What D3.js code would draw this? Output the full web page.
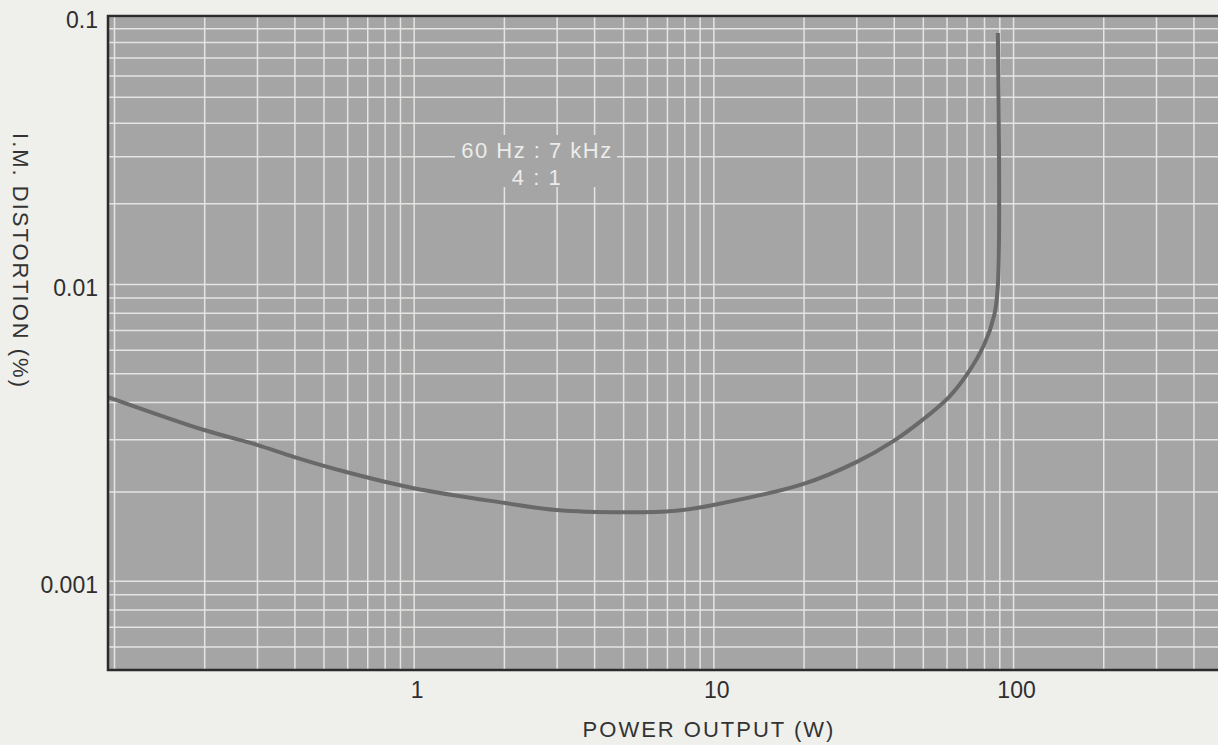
<!DOCTYPE html>
<html>
<head>
<meta charset="utf-8">
<script src="https://cdn.jsdelivr.net/npm/d3@7"></script>
<style>
    body { margin: 0; background: #efefec; }
    svg { display: block; }
</style>
</head>
<body>
<div id="chartContainer"></div>
<script>
// power output (W) and I.M. distortion (%)
const power = [0.0955, 0.2, 0.3, 0.4, 0.6, 1, 2, 3, 5, 7.5, 10, 20, 30, 40, 50, 61, 70, 80, 86.6, 89, 89];
const imd = [0.00416, 0.00322, 0.00287, 0.00261, 0.00232, 0.00205, 0.00183, 0.00173, 0.00170, 0.00172,
    0.00180, 0.00212, 0.00251, 0.00296, 0.00349, 0.00415, 0.00494, 0.00623, 0.00787, 0.0099, 0.0864];

const xTickLabels = [1, 10, 100];
const yTickLabels = [0.001, 0.01, 0.1];
const annotation = ['60 Hz : 7 kHz', '4 : 1'];

function init() {
    const width = 1218;
    const height = 745;
    const plot = { left: 108, top: 16, right: 1218, bottom: 670 };

    const data = power.map((p, i) => ({ power: p, value: imd[i] }));

    const svg = d3.select('#chartContainer')
        .append('svg')
        .attr('width', width)
        .attr('height', height)
        .style('font-family', '"Liberation Sans", Arial, sans-serif');

    const scX = d3.scaleLog()
        .domain([0.0955, 483])
        .range([plot.left, plot.right]);

    // the printed scale is a little uneven between the two decades
    const scY = d3.scaleLog()
        .domain([0.1, 0.01, 0.0005])
        .range([plot.top, 284, plot.bottom]);

    // plot background
    svg.append('rect')
        .attr('x', plot.left)
        .attr('y', plot.top)
        .attr('width', plot.right - plot.left + 20)
        .attr('height', plot.bottom - plot.top)
        .attr('fill', '#a5a5a5');

    //GRIDS
    const xgridlines = d3.axisTop(scX)
        .tickFormat('')
        .tickSize(-(plot.bottom - plot.top))
        .tickSizeOuter(0);

    const ygridlines = d3.axisLeft(scY)
        .tickValues(scY.ticks())
        .tickFormat('')
        .tickSize(-(plot.right - plot.left))
        .tickSizeOuter(0);

    svg.append('g')
        .attr('class', 'main-grid')
        .attr('transform', `translate(0, ${plot.top})`)
        .call(xgridlines);

    svg.append('g')
        .attr('class', 'main-grid')
        .attr('transform', `translate(${plot.left}, 0)`)
        .call(ygridlines);

    svg.selectAll('.main-grid .domain').remove();
    svg.selectAll('.main-grid line')
        .attr('stroke', '#e4e4e2')
        .attr('stroke-width', 1.5);

    // annotation patch over the grid
    svg.append('rect')
        .attr('x', 455)
        .attr('y', 135)
        .attr('width', 162)
        .attr('height', 52)
        .attr('fill', '#a5a5a5');

    svg.append('g')
        .selectAll('text')
        .data(annotation)
        .enter()
        .append('text')
        .attr('x', 537)
        .attr('y', (d, i) => 158 + i * 27)
        .attr('text-anchor', 'middle')
        .attr('fill', '#ececea')
        .style('font-size', '22px')
        .style('letter-spacing', '1.5px')
        .text(d => d);

    // curve
    const lineMaker = d3.line()
        .x(d => scX(d.power))
        .y(d => scY(d.value))
        .curve(d3.curveCatmullRom.alpha(0.5));

    svg.append('path')
        .attr('fill', 'none')
        .attr('stroke', '#696969')
        .attr('stroke-width', 4)
        .attr('stroke-linejoin', 'round')
        .attr('d', lineMaker(data));

    // frame (open on the right, runs off the page)
    svg.append('path')
        .attr('fill', 'none')
        .attr('stroke', '#2b2b2b')
        .attr('stroke-width', 2.5)
        .attr('d', `M${width + 5},${plot.top}H${plot.left}V${plot.bottom}H${width + 5}`);

    // Y Axis labels
    const yAxis = d3.axisLeft(scY)
        .tickValues(yTickLabels)
        .tickFormat(d3.format('~g'))
        .tickSize(0)
        .tickPadding(10);

    const gy = svg.append('g')
        .attr('transform', `translate(${plot.left}, 4)`)
        .call(yAxis);
    gy.select('.domain').remove();
    gy.selectAll('text')
        .attr('fill', '#2e2e2e')
        .style('font-size', '23px');

    // X Axis labels
    const xAxis = d3.axisBottom(scX)
        .tickValues(xTickLabels)
        .tickFormat(d3.format('~g'))
        .tickSize(0)
        .tickPadding(12);

    const gx = svg.append('g')
        .attr('transform', `translate(3, ${plot.bottom})`)
        .call(xAxis);
    gx.select('.domain').remove();
    gx.selectAll('text')
        .attr('fill', '#2e2e2e')
        .style('font-size', '23px');

    // axis titles
    svg.append('text')
        .attr('x', 709)
        .attr('y', 737)
        .attr('text-anchor', 'middle')
        .attr('fill', '#333')
        .style('font-size', '22px')
        .style('letter-spacing', '2px')
        .text('POWER OUTPUT (W)');

    svg.append('text')
        .attr('transform', 'translate(13, 261) rotate(90)')
        .attr('text-anchor', 'middle')
        .attr('fill', '#333')
        .style('font-size', '22px')
        .style('letter-spacing', '2px')
        .text('I.M. DISTORTION (%)');
}

init();
</script>
</body>
</html>
